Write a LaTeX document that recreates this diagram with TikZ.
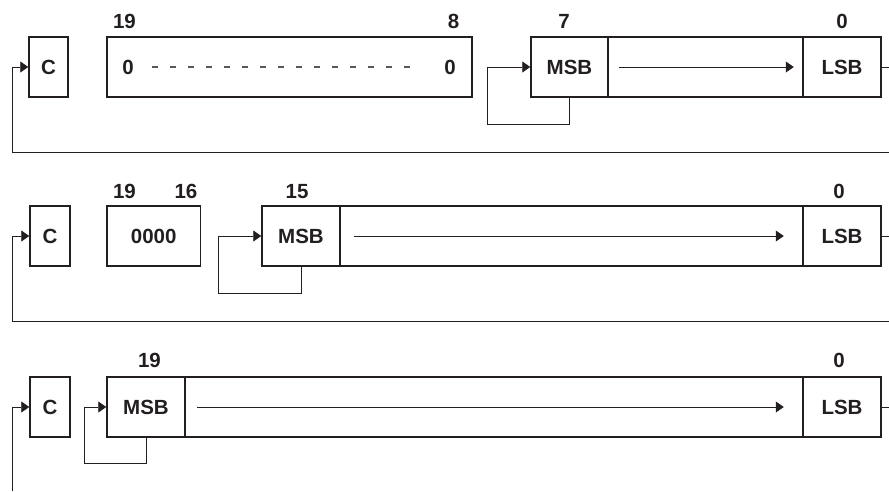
\documentclass[tikz,border=0pt]{standalone}
\usepackage{fontspec}
\setmainfont{Liberation Sans}
\usetikzlibrary{arrows.meta}
\definecolor{ink}{HTML}{231F20}
\begin{document}
\begin{tikzpicture}[x=1pt,y=-1pt,
  regbox/.style={draw=ink,line width=1.5pt,rectangle,inner sep=0pt,minimum height=60pt,
    font=\fontsize{20.5}{23}\selectfont\bfseries,text=ink},
  txt/.style={inner sep=0pt,font=\fontsize{20.5}{23}\selectfont\bfseries,text=ink},
  bitlbl/.style={inner sep=0pt,anchor=base,font=\fontsize{20.5}{23}\selectfont\bfseries,text=ink},
  conn/.style={draw=ink,line width=0.8pt},
  arr/.style={conn,-{Triangle[length=8pt,width=11pt]}},
  dotline/.style={draw=ink!75,line width=1.2pt,dash pattern=on 6pt off 12pt}
]
\useasboundingbox (0,0) rectangle (889,491);

% ---------- Row 1 ----------
\node[regbox,minimum width=39pt] (c1) at (48.5,67) {C};
\node[regbox,minimum width=365pt] (z1) at (289.5,67) {};
\node[txt] (z1l) at (128,67) {0};
\node[txt] (z1r) at (450,67) {0};
\node[regbox,minimum width=77pt] (m1) at (569.5,67) {MSB};
\node[regbox,minimum width=195pt] (mid1) at (705.5,67) {};
\node[regbox,minimum width=78pt] (l1) at (842,67) {LSB};
\node[bitlbl] (b1a) at (124.5,28) {19};
\node[bitlbl] (b1b) at (453.5,28) {8};
\node[bitlbl] (b1c) at (564,28) {7};
\node[bitlbl] (b1d) at (842,28) {0};
\draw[dotline,shorten <=18pt,shorten >=34pt] (z1l.east) -- (z1r.west);
\coordinate (fb1) at (487,124);
\draw[arr] (m1.south) |- (fb1) |- (m1.west);
\draw[arr,shorten <=12pt,shorten >=10pt] (mid1.west) -- (mid1.east);
\coordinate (r1) at (889,67);
\draw[conn] (l1.east) -- (r1);
\coordinate (e1) at (889,152);
\coordinate (cr1) at (12,152);
\draw[arr] (e1) -- (cr1) |- (c1.west);

% ---------- Row 2 ----------
\node[regbox,minimum width=40pt] (c2) at (50,236) {C};
\node[regbox,minimum width=93.5pt] (z2) at (153.75,236) {0000};
\node[regbox,minimum width=78pt] (m2) at (301,236) {MSB};
\node[regbox,minimum width=463pt] (mid2) at (571.5,236) {};
\node[regbox,minimum width=78pt] (l2) at (842,236) {LSB};
\node[bitlbl] (b2a) at (124.5,198) {19};
\node[bitlbl] (b2b) at (186,198) {16};
\node[bitlbl] (b2c) at (297,198) {15};
\node[bitlbl] (b2d) at (839,198) {0};
\coordinate (fb2) at (218,293);
\draw[arr] (m2.south) |- (fb2) |- (m2.west);
\draw[arr,shorten <=15pt,shorten >=20pt] (mid2.west) -- (mid2.east);
\coordinate (r2) at (889,236);
\draw[conn] (l2.east) -- (r2);
\coordinate (e2) at (889,321);
\coordinate (cr2) at (12,321);
\draw[arr] (e2) -- (cr2) |- (c2.west);

% ---------- Row 3 ----------
\node[regbox,minimum width=40pt] (c3) at (50,407) {C};
\node[regbox,minimum width=78pt] (m3) at (146,407) {MSB};
\node[regbox,minimum width=618pt] (mid3) at (494,407) {};
\node[regbox,minimum width=78pt] (l3) at (842,407) {LSB};
\node[bitlbl] (b3a) at (149.5,367) {19};
\node[bitlbl] (b3b) at (839,367) {0};
\coordinate (fb3) at (84,463);
\draw[arr] (m3.south) |- (fb3) |- (m3.west);
\draw[arr,shorten <=13pt,shorten >=20pt] (mid3.west) -- (mid3.east);
\coordinate (r3) at (889,407);
\draw[conn] (l3.east) -- (r3);
\coordinate (cr3) at (12,491);
\draw[arr] (cr3) |- (c3.west);
\end{tikzpicture}
\end{document}
